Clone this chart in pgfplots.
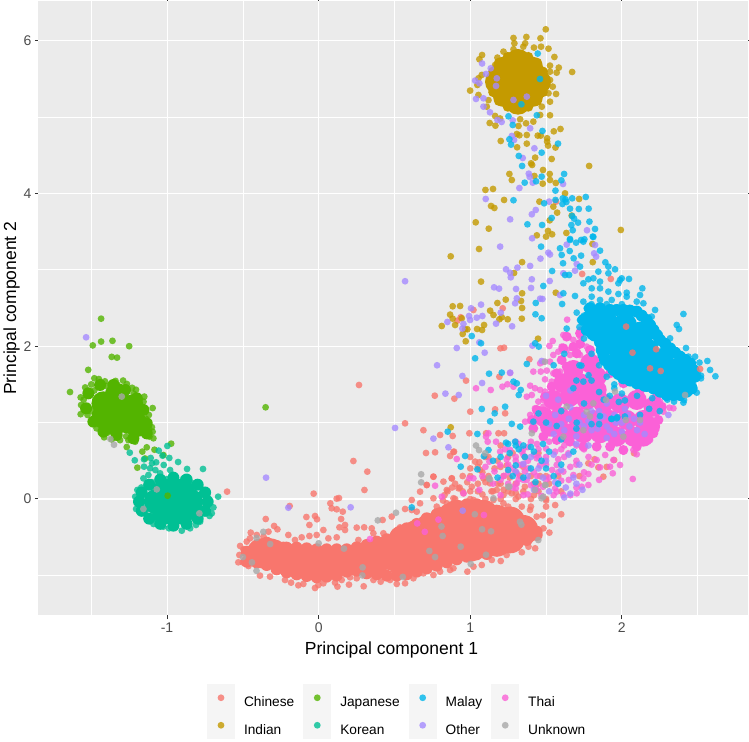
\documentclass[border=0pt]{standalone}
\usepackage{fontspec}
\setmainfont{Liberation Sans}
\usepackage{pgfplots}
\pgfplotsset{compat=1.18}
\definecolor{cChinese}{HTML}{F8766D}
\definecolor{cIndian}{HTML}{C49A00}
\definecolor{cJapanese}{HTML}{53B400}
\definecolor{cKorean}{HTML}{00C094}
\definecolor{cMalay}{HTML}{00B6EB}
\definecolor{cOther}{HTML}{A58AFF}
\definecolor{cThai}{HTML}{FB61D7}
\definecolor{cUnknown}{HTML}{A8A8A8}
\pgfplotsset{
  pts/.style={only marks, mark=*, mark size=3.4pt, forget plot,
    mark options={draw opacity=0, fill=#1, fill opacity=0.8}},
  blob/.style 2 args={only marks, mark=*, mark size=#2, forget plot,
    mark options={draw opacity=0, fill=#1}},
  key/.style={draw=none, fill=#1, fill opacity=0.8},
}
\begin{document}
\begin{tikzpicture}
\useasboundingbox (0,0) rectangle (749pt,741pt);
\begin{axis}[
  at={(38.5pt,125.5pt)}, anchor=south west,
  scale only axis, width=709.5pt, height=614.5pt,
  xmin=-1.848, xmax=2.832, ymin=-1.525, ymax=6.518,
  xtick={-1,0,1,2}, ytick={0,2,4,6},
  minor xtick={-1.5,-0.5,0.5,1.5,2.5}, minor ytick={-1,1,3,5},
  grid=both,
  major grid style={white, line width=1.05pt},
  minor grid style={white, line width=0.55pt},
  axis background/.style={fill=black!8},
  axis line style={draw=none},
  tick align=outside, major tick length=3.6pt, minor tick length=0pt,
  tick style={color=black!80, line width=1pt},
  tick label style={font=\fontsize{14}{16}\selectfont, text=black!70,
    /pgf/number format/assume math mode=true},
  xlabel={Principal component 1}, ylabel={Principal component 2},
  every axis x label/.style={at={(axis description cs:0.4975,-0.043)},anchor=north,inner sep=0pt,font=\fontsize{17.5}{20}\selectfont},
  every axis y label/.style={at={(axis description cs:-0.026,0.5)},rotate=90,anchor=south,inner sep=0pt,font=\fontsize{17.5}{20}\selectfont},
  legend columns=4,
  legend cell align=left,
  legend image code/.code={
    \fill[black!5] (0pt,-8.75pt) rectangle (28pt,18.75pt);
    \fill[#1] (14pt,5pt) circle (3.4pt);
  },
  legend style={at={(axis description cs:0.2375,-0.1115)}, anchor=north west,
    draw=none, fill=none, inner sep=0pt, outer sep=0pt,
    column sep=9pt, row sep=0pt,
    font=\fontsize{13.7}{16}\selectfont,
    nodes={inner sep=0pt}},
]
\addlegendimage{key=cChinese}\addlegendentry{Chinese}
\addlegendimage{key=cJapanese}\addlegendentry{Japanese}
\addlegendimage{key=cMalay}\addlegendentry{Malay}
\addlegendimage{key=cThai}\addlegendentry{Thai}
\addlegendimage{key=cIndian}\addlegendentry{Indian}
\addlegendimage{key=cKorean}\addlegendentry{Korean}
\addlegendimage{key=cOther}\addlegendentry{Other}
\addlegendimage{key=cUnknown}\addlegendentry{Unknown}

% Chinese
\addplot[blob={cChinese}{15pt}] coordinates {
(-.376,-.711)(-.321,-.711)(-.233,-.755)(-.145,-.798)(-.057,-.82)(.031,-.82)(.119,-.82)(.207,-.798)
(.295,-.798)(.383,-.777)(.471,-.733)(.559,-.536)(.559,-.842)(.647,-.471)(.647,-.755)(.735,-.384)
(.735,-.733)(.823,-.296)(.823,-.667)(.911,-.209)(.911,-.624)(.999,-.209)(.999,-.624)(1.087,-.209)
(1.087,-.58)(1.175,-.275)(1.175,-.558)(1.263,-.296)(1.263,-.515)(1.35,-.406)(.867,-.471)(.955,-.415)
(1.043,-.406)(1.13,-.406)};
\addplot[blob={cChinese}{6pt}] coordinates {
(-.474,-.69)(-.474,-.82)(-.409,-.615)(-.409,-.829)(-.343,-.572)(-.343,-.864)(-.277,-.615)(-.277,-.92)
(-.211,-.637)(-.211,-.96)(-.145,-.637)(-.145,-.986)(-.079,-.646)(-.079,-1.008)(-.013,-.659)(-.013,-1.025)
(.053,-.659)(.053,-1.017)(.119,-.659)(.119,-1.003)(.185,-.659)(.185,-.951)(.251,-.633)(.251,-.938)
(.317,-.602)(.317,-.973)(.383,-.558)(.383,-.986)(.449,-.528)(.449,-1.003)(.515,-.458)(.515,-1.003)
(.581,-.384)(.581,-.986)(.647,-.327)(.647,-.951)(.713,-.253)(.713,-.908)(.779,-.2)(.779,-.873)
(.845,-.144)(.845,-.829)(.911,-.1)(.911,-.79)(.977,-.07)(.977,-.755)(1.043,-.07)(1.043,-.724)
(1.109,-.113)(1.109,-.72)(1.175,-.153)(1.175,-.676)(1.241,-.196)(1.241,-.633)(1.307,-.275)(1.307,-.589)
(1.372,-.34)(1.372,-.537)(1.438,-.428)(1.438,-.471)};
\addplot[pts=cChinese] coordinates {
(-.518,-.615)(-.496,-.659)(-.448,-.44)(-.408,-.471)(-.364,-.493)(-.331,-.428)(-.294,-.353)(-.272,-.397)
(-.349,-.262)(-.2,-.471)(-.156,-.537)(-.112,-.502)(-.061,-.484)(-.013,-.471)(.031,-.406)(.064,-.515)
(.119,-.502)(.148,-.262)(.137,-.371)(.174,-.34)(.174,-.406)(.251,-.375)(.3,-.371)(.262,-.537)
(.35,-.384)(.361,-.449)(.422,-.275)(.427,-.449)(.482,-.231)(.537,-.371)(.57,-.131)(.614,-.013)
(.614,-.144)(.647,-.166)(.669,.096)(.669,-.057)(.713,.183)(.757,.292)(.768,.611)(.708,.602)
(.867,.563)(.889,.615)(.823,.227)(.845,.118)(.878,.27)(.922,.14)(.757,.009)(.779,-.1)
(.845,-.057)(.889,.009)(.955,.074)(1.01,.161)(1.032,.489)(1.065,.38)(1.087,.27)(1.13,.205)
(1.175,.118)(1.219,.052)(1.274,.074)(1.318,.031)(1.021,-.013)(1.153,-.013)(1.219,-.057)(1.34,-.1)
(1.394,-.144)(1.438,-.231)(1.478,-.214)(1.526,-.284)(1.522,-.44)(1.483,-.384)(1.428,-.646)(1.384,-.624)
(1.34,-.698)(1.296,-.646)(1.24,-.733)(1.201,-.812)(1.142,-.798)(1.076,-.864)(1.021,-.886)(.981,-.951)
(.889,-.907)(.867,-.929)(.801,-.951)(.757,-.995)(.691,-.973)(.625,-1.038)(.57,-1.104)(.515,-1.112)
(.471,-1.06)(.409,-1.082)(.361,-1.06)(.297,-1.143)(.2,-1.121)(.251,-1.038)(.207,-1.025)(.152,-1.06)
(.124,-1.147)(.108,-1.095)(.031,-1.104)(-.002,-1.126)(-.024,-1.165)(-.101,-1.112)(-.134,-1.13)(-.182,-1.095)
(-.222,-1.06)(-.321,-1.016)(-.387,-1.003)(-.463,-.877)(-.501,-.829)(-.53,-.829)(-.523,-.733)(-.475,-.558)
(-.453,-.515)(.229,.497)(.321,.358)(.302,.118)(-.033,.07)(-.604,.096)(-.191,-.092)(.077,-.057)
(.119,.004)(.134,.012)(.086,-.122)(.119,-.135)(.159,-.166)(-.081,-.236)(-.024,-.223)(-.011,-.266)
(-.061,-.34)(.266,1.492)(.57,.99)(.691,.90)(.801,.838)(.884,.825)(.893,.62)(.994,.86)
(1.104,.86)(1.186,.86)(1.223,.86)(1.0,1.143)(1.164,1.173)(1.23,1.121)(1.192,1.6)(1.199,1.972)
(1.223,1.98)(1.39,1.828)(.972,1.549)(.766,1.352)(.895,1.313)(1.021,2.474)(.937,2.378)(.915,2.334)
(1.214,2.496)(1.738,2.945)(1.927,2.88)(1.566,3.892)(1.949,.51)(1.878,.292)(1.845,.414)(1.779,.467)
(.757,.292)(.878,.27)(.713,.183)(1.0,.55)(1.06,.48)(1.12,.55)(1.18,.5)(1.0,.4)
(1.08,.35)(1.16,.4)(1.24,.44)(.95,.3)(1.1,.22)(1.18,.2)(1.26,.28)(.93,.15)
(1.0,.1)(1.08,.06)(1.14,.1)(1.22,.12)(1.3,.08)(1.36,.16)(1.42,.05)(1.5,-.02)
(1.56,-.08)(1.6,-.2)(.98,.22)(1.4,.3)(1.5,.3)(1.58,.3)(1.6,.1)(1.45,.2)
(.83,.05)(.88,.15)(.82,-.02)(1.3,.35)(1.36,.55)(1.28,.6)(1.2,.7)(1.45,.6)
(1.72,.3)(1.82,.52)(1.9,.42)(2.08,.6)
(.9,0)(1.0,0)(1.1,0)(1.2,0)(1.3,0)(1.4,0)(1.5,0)(.85,.1)(.95,.1)(1.05,.1)(1.15,.1)(1.25,.1)(1.35,.1)(1.45,.1)
(.9,.2)(1.05,.2)(1.2,.2)(1.3,.2)(1.42,.2)(1.52,.2)(1.0,.3)(1.12,.3)(1.22,.3)(1.33,.3)(1.46,.3)
(.95,-.1)(1.1,-.1)(1.25,-.1)(1.4,-.1)(1.5,-.1)(1.05,.42)(1.2,.42)(1.35,.42)(1.1,.55)(1.25,.55)};

% Japanese
\addplot[blob={cJapanese}{12pt}] coordinates {
(-1.332,1.165)(-1.42,1.252)(-1.332,1.361)(-1.233,1.208)(-1.255,1.012)(-1.343,.99)(-1.42,1.077)(-1.20,.968)};
\addplot[blob={cJapanese}{6pt}] coordinates {
(-1.519,1.383)(-1.442,1.492)(-1.354,1.492)(-1.277,1.427)(-1.2,1.318)(-1.156,1.165)(-1.134,.99)(-1.134,.859)
(-1.222,.794)(-1.332,.838)(-1.42,.881)(-1.486,1.012)(-1.534,1.187)};
\addplot[pts=cJapanese] coordinates {
(-1.64,1.40)(-1.52,1.69)(-1.435,2.36)(-1.435,2.06)(-1.36,2.07)(-1.25,2.0)(-1.49,2.01)(-1.365,1.86)
(-1.33,1.85)(-1.48,1.58)(-1.45,1.57)(-1.41,1.54)(-1.34,1.545)(-1.29,1.55)(-1.265,1.505)(-1.23,1.455)
(-1.205,1.43)(-1.54,1.46)(-1.57,1.33)(-1.567,1.23)(-1.57,1.11)(-1.525,1.10)(-1.50,1.01)(-1.465,.925)
(-1.415,.807)(-1.365,.78)(-1.31,.77)(-1.255,.77)(-1.21,.75)(-1.15,1.34)(-1.155,1.274)(-1.12,1.10)
(-1.095,1.19)(-1.134,1.01)(-1.12,.925)(-1.10,.94)(-1.116,.816)(-1.09,.794)(-1.095,.88)(-1.266,.68)
(-1.134,.676)(-1.163,.62)(-1.145,.53)(-1.083,.645)(-1.024,.575)(-.973,.724)(-1.196,.41)(-.35,1.2)
(-1.50,1.50)(-1.52,1.40)(-1.48,1.42)(-1.55,1.30)(-1.53,1.18)(-1.50,1.15)(-1.46,1.05)(-1.44,.98)
(-1.39,.87)(-1.34,.84)(-1.27,.82)(-1.22,.85)(-1.18,.95)(-1.14,1.05)(-1.15,1.18)(-1.18,1.30)
(-1.22,1.38)(-1.27,1.45)(-1.33,1.50)(-1.40,1.48)};

% Korean
\addplot[blob={cKorean}{13pt}] coordinates {
(-.958,-.035)(-1.068,-.035)(-.848,-.035)(-1.013,.096)(-.903,.096)(-1.013,-.166)(-.903,-.166)};
\addplot[blob={cKorean}{6pt}] coordinates {
(-.732,-.035)(-.749,-.155)(-.798,-.257)(-.871,-.325)(-.958,-.349)(-1.045,-.325)(-1.118,-.257)(-1.167,-.155)
(-1.185,-.035)(-1.167,.085)(-1.118,.187)(-1.045,.255)(-.958,.279)(-.871,.255)(-.798,.187)(-.749,.085)};
\addplot[pts=cKorean] coordinates {
(-1.246,.606)(-1.213,.506)(-1.152,.423)(-1.152,.519)(-1.055,.633)(-.998,.694)(-1.03,.567)(-.985,.537)
(-1.108,.537)(-1.072,.48)(-1.022,.445)(-.927,.484)(-.868,.393)(-.763,.393)(-1.099,.467)(-1.112,.401)
(-1.077,.379)(-.98,.379)(-1.156,.27)(-1.123,.314)(-1.046,.336)(-.958,.314)(-.892,.27)(-.837,.205)
(-.793,.192)(-.76,.118)(-.727,.009)(-.694,-.11)(-.663,.03)(-.705,-.188)(-.72,-.222)(-.782,-.297)
(-.809,-.34)(-.848,-.384)(-.903,-.415)(-.987,-.384)(-1.024,-.362)(-1.09,-.327)(-1.132,-.262)(-1.204,-.131)
(-1.21,.03)(-1.196,.118)(-1.17,.15)(-1.17,0)(-1.14,-.15)(-1.08,-.25)(-1.18,.05)(-.80,-.2)
(-.75,-.05)(-.78,.06)(-.82,.14)(-.90,.22)(-1,.26)(-1.1,.22)};
\addplot[pts=cJapanese] coordinates {(-.996,.043)};

% Indian
\addplot[blob={cIndian}{13pt}] coordinates {
(1.315,5.46)(1.447,5.46)(1.183,5.46)(1.315,5.72)(1.315,5.20)};
\addplot[blob={cIndian}{11pt}] coordinates {
(1.408,5.645)(1.222,5.645)(1.408,5.275)(1.222,5.275)};
\addplot[blob={cIndian}{5pt}] coordinates {
(1.493,5.46)(1.479,5.595)(1.441,5.71)(1.383,5.786)(1.315,5.813)(1.247,5.786)(1.189,5.71)(1.151,5.595)
(1.137,5.46)(1.151,5.325)(1.189,5.21)(1.247,5.134)(1.315,5.107)(1.383,5.134)(1.441,5.21)(1.479,5.325)};
\addplot[pts=cIndian] coordinates {
(1.498,6.147)(1.285,6.034)(1.37,6.047)(1.463,6.03)(1.291,5.964)(1.362,5.964)(1.35,5.92)(1.467,5.92)
(1.42,5.908)(1.516,5.894)(1.285,5.886)(1.078,5.811)(1.06,5.755)(1.219,5.855)(1.555,5.785)(1.179,5.777)
(1.526,5.672)(1.584,5.646)(1.672,5.589)(1.57,5.58)(1.526,5.593)(1.164,5.68)(1.076,5.55)(1.054,5.506)
(1.047,5.419)(.999,5.345)(1.054,5.288)(1.109,5.135)(1.12,5.22)(1.526,5.484)(1.544,5.397)(1.516,5.31)
(1.566,5.301)(1.526,5.2)(1.472,5.135)(1.461,5.026)(1.526,5.022)(1.164,5.013)(1.197,4.98)(1.128,4.921)
(1.166,4.886)(1.318,4.882)(1.368,4.917)(1.416,4.939)(1.329,4.97)(1.595,4.843)(1.551,4.812)(1.307,4.777)
(1.324,4.76)(1.373,4.764)(1.445,4.756)(1.465,4.756)(1.507,4.721)(1.507,4.677)(1.513,4.625)(1.562,4.6)
(1.201,4.686)(1.309,4.603)(1.373,4.651)(1.428,4.468)(1.537,4.45)(1.401,4.393)(1.408,4.372)(1.784,4.359)
(1.48,4.306)(1.258,4.254)(1.423,4.228)(1.524,4.254)(1.274,4.175)(1.526,4.175)(1.478,4.127)(1.564,4.136)
(1.10,4.045)(1.15,4.058)(1.625,4.0)(1.223,3.914)(1.456,3.892)(1.718,3.927)(1.137,3.835)(1.159,3.809)
(1.548,3.826)(1.573,3.748)(1.669,3.709)(1.524,3.647)(1.036,3.621)(1.122,3.538)(1.513,3.508)(1.439,3.451)
(1.54,3.464)(1.50,3.434)(1.634,3.482)(1.993,3.521)(1.058,3.272)(.871,3.176)(1.342,3.1)(1.289,2.958)
(1.071,2.845)(1.564,2.70)(1.808,3.1)(1.806,3.338)(1.342,2.692)(1.335,2.592)(1.234,2.609)(1.179,2.565)
(1.342,2.50)(.884,2.522)(.933,2.526)(.867,2.413)(.884,2.36)(.944,2.365)(1.131,2.465)(1.153,2.408)
(1.192,2.352)(1.208,2.378)(1.247,2.352)(1.34,2.36)(.812,2.264)(.90,2.277)(1.091,2.277)(1.045,2.225)
(1.078,2.212)(.966,2.221)(.981,2.221)(.95,2.16)(.97,2.064)(1.447,2.098)(.871,.938)};

% Thai
\addplot[blob={cThai}{10pt}] coordinates {
(1.68,1.688)(1.79,1.776)(1.834,1.601)(1.614,1.514)(1.724,1.514)(1.834,1.427)(1.548,1.296)(1.658,1.339)
(1.768,1.296)(1.878,1.252)(1.988,1.252)(2.098,1.296)(2.208,1.208)(1.482,1.078)(1.592,1.078)(1.702,1.078)
(1.812,1.034)(1.922,1.034)(2.032,1.034)(2.142,1.034)(2.186,.947)(1.636,.86)(1.746,.86)(1.856,.86)
(1.966,.816)(2.076,.816)(2.142,.816)(1.526,.947)};
\addplot[blob={cThai}{5pt}] coordinates {
(1.636,2.125)(1.724,2.168)(1.812,2.147)(1.867,2.038)(1.889,1.819)(1.922,1.645)(2.01,1.514)(2.12,1.427)
(2.23,1.339)(2.263,1.208)(2.241,1.034)(2.208,.86)(2.164,.772)(2.098,.685)(2.01,.641)(1.922,.685)
(1.834,.685)(1.746,.685)(1.658,.75)(1.57,.772)(1.482,.816)(1.416,.925)(1.406,1.034)(1.439,1.165)
(1.493,1.339)(1.537,1.47)(1.57,1.645)(1.603,1.819)(1.614,1.972)(1.702,1.906)(1.79,1.95)(1.636,1.732)
(1.724,2.03)(1.68,1.99)};
\addplot[pts=cThai] coordinates {
(1.639,2.347)(1.724,2.212)(1.746,2.221)(1.79,2.19)(1.834,2.168)(1.614,2.147)(1.647,2.116)(1.68,2.081)
(1.724,2.125)(1.544,2.068)(1.522,2.003)(1.603,1.994)(1.636,1.95)(1.581,1.928)(1.702,1.972)(1.768,1.994)
(1.548,1.885)(1.526,1.797)(1.603,1.819)(1.658,1.885)(1.724,1.885)(1.482,1.797)(1.461,1.776)(1.416,1.667)
(1.465,1.667)(1.505,1.68)(1.548,1.645)(1.592,1.667)(1.263,1.649)(1.493,1.566)(1.537,1.536)(1.581,1.579)
(1.245,1.501)(1.212,1.47)(1.135,1.427)(1.038,1.449)(1.285,1.47)(1.395,1.483)(1.427,1.449)(1.461,1.427)
(1.493,1.405)(1.373,1.339)(1.406,1.361)(1.482,1.296)(1.449,1.274)(1.427,1.187)(1.395,1.10)(1.362,1.012)
(1.427,1.034)(1.482,1.208)(2.208,.99)(2.219,.925)(2.186,.772)(2.098,.585)(2.076,.641)(2.01,.62)
(1.944,.51)(1.988,.445)(1.922,.423)(1.94,.336)(2.072,.262)(1.89,.576)(1.834,.51)(1.856,.414)
(1.779,.327)(1.746,.27)(1.779,.183)(1.735,.161)(1.68,.314)(1.614,.358)(1.647,.598)(1.57,.445)
(1.493,.489)(1.439,.532)(1.351,.576)(1.12,.86)(1.104,.816)(1.17,.75)(1.115,.75)(.911,.523)
(.994,.27)(1.021,.27)(.768,.174)(.812,.03)(.955,.074)(1.197,.445)(1.126,.489)(1.197,.62)
(1.263,.641)(1.384,.401)(1.329,.445)(1.307,.336)(1.702,.074)(1.614,.052)(1.57,.096)(1.439,.118)
(1.373,.249)(1.307,.205)(2.34,1.187)(2.314,1.195)(2.252,1.274)(2.274,1.143)(1.32,.72)(1.38,.68)
(1.44,.72)(1.5,.66)(1.56,.62)(1.34,.62)(1.42,.58)(1.5,.55)(1.58,.52)(1.3,.5)
(1.38,.5)(1.46,.44)(1.54,.38)(1.28,.4)(1.36,.36)(1.44,.3)(1.52,.28)(1.6,.24)
(1.32,.26)(1.4,.18)(1.48,.16)(1.56,.14)(1.66,.42)(1.7,.5)(1.62,.7)(1.7,.7)
(1.24,.52)(1.22,.3)(1.16,.36)(1.3,.14)(1.38,.06)(1.47,.04)(1.25,.2)(1.15,.2)
(1.08,.3)(1.06,.12)(1.2,.05)(1.1,.42)(.339,-.524)(.65,-.32)(.7,-.43)(.79,-.27)(1.09,-.21)
(1.3,.75)(1.4,.75)(1.52,.75)(1.23,.65)(1.35,.65)(1.45,.65)(1.6,.65)(1.75,.65)(1.3,.55)(1.45,.55)(1.62,.55)(1.78,.55)
(1.25,.45)(1.35,.45)(1.5,.45)(1.7,.45)(1.8,.45)(1.25,.35)(1.42,.35)(1.58,.35)(1.75,.35)(1.2,.25)(1.35,.25)(1.5,.25)
(1.65,.25)(1.85,.25)(1.28,.15)(1.43,.15)(1.7,.15)(1.35,.05)(1.55,.05)(1.66,.05)};

% Other
\addplot[pts=cOther] coordinates {
(1.078,5.70)(1.135,5.637)(1.104,5.563)(1.032,5.476)(1.06,5.441)(1.175,5.506)(1.17,5.406)(1.038,5.236)
(1.087,5.244)(1.087,5.135)(1.13,5.061)(1.179,4.961)(1.207,4.935)(1.28,4.956)(1.395,4.852)(1.274,4.751)
(1.289,4.699)(1.423,4.59)(1.346,4.463)(1.386,4.258)(1.392,4.215)(1.412,4.14)(1.612,4.123)(1.324,4.07)
(1.102,3.927)(1.52,3.892)(1.432,3.783)(1.406,3.726)(1.263,3.66)(1.77,3.517)(1.408,3.412)(1.285,5.223)
(1.373,5.266)(1.197,3.303)(1.515,3.224)(1.526,3.2)(1.463,3.146)(1.236,3.006)(1.263,2.962)(1.267,2.901)
(1.311,3.028)(1.395,3.05)(1.406,2.875)(1.524,2.853)(1.157,2.77)(1.19,2.753)(1.302,2.749)(1.401,2.762)
(1.592,2.67)(1.461,2.622)(1.476,2.618)(1.307,2.626)(1.296,2.561)(1.201,2.439)(1.071,2.544)(1.005,2.496)
(.992,2.395)(.999,2.343)(1.043,2.373)(1.08,2.395)(.849,2.317)(.955,2.291)(.948,2.23)(1.17,2.295)
(1.276,2.26)(.911,1.976)(1.06,2.05)(1.095,1.915)(1.41,2.007)(1.471,1.806)(.781,1.75)(.948,1.61)
(1.078,1.518)(.836,1.379)(.924,1.361)(1.263,1.654)(.757,.79)(.856,.676)(1.636,3.329)(1.702,3.076)
(1.691,2.988)(1.614,2.954)(1.823,3.325)(1.817,3.215)(1.83,3.172)(-1.534,2.116)(-.347,.279)(-.20,-.114)
(.211,-.109)(.95,-.153)(.57,2.85)(.504,.93)(2.307,1.10)
(1.66,1.2)(1.75,1.1)(1.85,1.15)(1.95,1.1)(2.0,1.0)(2.05,.95)(1.9,.95)(1.85,1.05)
(1.8,.9)(1.75,.95)(1.7,.82)(1.62,.9)(1.55,.85)(1.9,.8)(1.95,.85)(2.1,.9)
(1.4,.55)(1.5,.5)(1.45,.4)(1.35,.46)(1.55,.58)(1.6,.38)(1.38,.3)(1.48,.28)
(1.56,.22)(1.63,.15)(1.52,.1)(1.42,.12)(1.7,.2)(1.3,.36)(1.72,.45)(1.78,.7)
(1.65,.58)(1.68,.28)(1.74,.12)(1.62,.02)(1.66,.07)
(1.8,1.15)(1.88,1.08)(1.96,1.0)(2.04,1.1)(2.12,1.0)(2.0,.88)(1.84,.92)(1.92,.9)(2.08,1.05)(2.15,.85)(1.78,1.02)
(1.72,1.0)(1.65,1.05)(1.6,.98)(1.58,1.3)(1.66,1.42)(1.56,1.1)(1.7,.72)(2.02,1.18)(1.9,1.25)(1.5,1.35)(1.52,.98)};

% Malay
\addplot[blob={cMalay}{12pt}] coordinates {
(1.90,2.3)(2.021,2.277)(2.131,2.168)(1.944,2.037)(2.054,1.994)(2.164,1.95)(2.263,1.819)(2.362,1.688)
(1.988,1.819)(2.098,1.776)(2.208,1.71)(2.307,1.579)(2.406,1.558)(2.12,1.623)(2.23,1.536)(2.34,1.47)(1.812,2.343)
(1.834,2.212)(2.043,2.147)(1.933,2.168)(2.153,1.776)(2.263,1.623)(2.032,1.688)(2.164,1.558)};
\addplot[blob={cMalay}{6pt}] coordinates {
(1.79,2.496)(1.856,2.496)(1.922,2.474)(2.01,2.474)(2.098,2.452)(2.164,2.343)(2.208,2.212)(2.252,2.081)
(2.318,1.972)(2.384,1.863)(2.45,1.776)(2.483,1.601)(2.461,1.448)(2.384,1.361)(2.296,1.361)(2.208,1.448)
(2.098,1.514)(2.01,1.579)(1.944,1.689)(1.889,1.819)(1.867,1.95)(1.845,2.147)(1.768,2.212)(1.746,2.343)
(1.966,2.474)(2.054,2.465)(2.131,2.4)(2.186,2.277)(2.23,2.147)(2.285,2.03)(2.351,1.915)(2.417,1.82)
(2.472,1.688)(2.428,1.405)(2.34,1.361)(2.252,1.405)(2.153,1.483)(2.054,1.55)(1.977,1.636)(1.916,1.754)
(1.878,1.885)(1.856,2.05)};
\addplot[pts=cMalay] coordinates {
(1.28,4.895)(1.476,4.817)(1.258,4.708)(1.269,4.638)(1.579,4.651)(1.471,4.533)(1.32,4.49)(1.342,4.359)
(1.619,4.254)(1.471,4.219)(1.601,4.171)(1.434,4.158)(1.359,4.14)(1.562,4.036)(1.285,3.91)(1.487,3.87)
(1.562,3.914)(1.61,3.935)(1.628,3.922)(1.672,3.935)(1.762,3.953)(1.608,3.861)(1.634,3.887)(1.658,3.80)
(1.716,3.796)(1.781,3.80)(1.672,3.704)(1.685,3.669)(1.537,3.678)(1.711,3.617)(1.786,3.63)(1.377,3.595)
(1.474,3.586)(1.667,3.586)(1.823,3.534)(1.676,3.517)(1.808,3.434)(1.658,3.403)(1.731,3.39)(1.753,3.399)
(1.46,5.497)(1.337,5.166)(1.445,5.83)(1.252,5.009)(1.439,5.022)(1.467,3.303)(1.592,3.281)(1.603,3.194)
(1.656,3.246)(1.731,3.185)(1.682,3.15)(1.612,3.085)(1.724,3.041)(1.856,3.25)(1.812,3.43)(1.746,3.368)
(1.698,3.355)(1.658,3.39)(1.54,2.984)(1.625,2.932)(1.652,2.932)(1.891,3.098)(1.911,3.041)(1.955,3.006)
(1.482,2.788)(1.614,2.692)(1.432,2.565)(1.606,2.552)(1.43,2.417)(1.471,2.365)(1.636,2.23)(1.702,2.439)
(1.729,2.343)(1.691,2.657)(1.01,2.133)(1.071,2.038)(1.428,2.038)(1.452,1.994)(1.032,1.841)(1.373,1.767)
(1.124,1.64)(1.208,1.654)(1.285,1.536)(1.307,1.514)(1.333,1.427)(1.32,1.361)(1.23,1.208)(1.076,1.178)
(1.161,1.121)(1.131,1.016)(1.274,.983)(.851,.881)(1.047,.851)(1.329,.947)(1.236,.737)(1.296,.75)
(1.12,.641)(.966,.563)(.937,.423)(1.047,.388)
(1.779,2.875)(1.812,2.888)(1.845,2.976)(1.911,2.954)(1.856,2.845)(1.746,2.823)(1.988,2.866)(1.999,2.888)
(2.047,2.88)(1.977,2.823)(1.801,2.757)(1.856,2.757)(1.911,2.714)(1.977,2.683)(2.032,2.70)(2.12,2.67)
(2.135,2.757)(1.746,2.583)(1.801,2.648)(1.856,2.605)(1.933,2.605)(2.032,2.648)(2.098,2.583)(2.142,2.561)
(2.219,2.474)(2.197,2.387)(2.406,2.421)(2.362,2.277)(2.377,2.225)(1.724,2.343)(1.768,2.496)(2.318,2.103)
(2.423,1.976)(2.483,1.863)(2.439,1.863)(2.512,1.785)(2.564,1.806)(2.582,1.689)(2.617,1.606)(2.522,1.614)
(2.522,1.579)(2.494,1.392)(2.41,1.296)(2.406,1.261)(2.344,1.274)(2.362,1.361)
(1.8,2.55)(1.85,2.5)(1.9,2.55)(1.95,2.5)(2.0,2.55)(2.05,2.5)(2.1,2.45)(2.15,2.35)
(2.2,2.2)(2.25,2.15)(2.3,2.05)(2.35,1.95)(2.4,1.85)(2.45,1.75)(2.5,1.65)(2.47,1.5)
(2.42,1.42)(2.3,1.3)(2.2,1.32)(2.1,1.35)(2.0,1.38)(1.95,1.5)(1.9,1.6)(1.85,1.75)
(1.8,1.9)(1.75,2.1)(1.72,2.25)(1.78,2.3)(1.75,2.4)
(1.733,1.745)(1.746,1.536)
(1.32,.65)(1.36,.55)(1.3,.44)(1.26,.6)(1.42,.62)(1.47,.5)(1.4,.4)(1.35,.28)
(1.5,.4)(1.55,.3)(1.6,.45)(1.2,.55)(1.25,.38)(1.43,.22)(1.28,.3)(1.15,.5)
(1.18,.28)(1.09,.56)(1.58,.2)(1.52,.62)(1.48,.72)(1.68,.62)(1.6,.78)(1.7,.92)
(1.8,.98)(1.85,.98)(1.93,1.05)(2.12,1.1)(2.18,1.18)(2.25,1.15)(1.97,1.07)(2.02,1.08)
(1.75,1.25)(1.85,1.4)(1.95,1.45)(1.68,1.45)(1.8,1.55)(1.72,1.75)(1.62,1.9)(.614,-.11)
(1.933,1.047)(1.966,1.056)(1.856,1.086)(1.702,.999)(1.57,.955)(1.416,1.012)(1.25,.72)(1.3,.7)(1.35,.7)(1.4,.68)
(1.7,1.55)(1.55,1.75)(1.78,1.62)(1.88,1.3)(1.92,1.35)(1.98,1.27)(2.02,1.29)(1.5,1.0)(1.6,1.15)(1.45,1.12)};

% Unknown
\addplot[pts=cUnknown] coordinates {
(-1.299,1.34)(-1.374,.785)(-1.35,.71)(-1.068,.126)(-1.156,-.131)(-.787,-.188)(1.79,1.08)(1.812,1.252)
(1.896,1.296)(1.955,1.405)(2.12,1.034)(2.026,1.034)(2.01,.816)(1.768,1.143)(1.614,.816)(1.746,.90)
(1.493,1.797)(2.417,1.361)(1.038,.70)(1.058,.64)(1.098,.598)(1.406,.86)(1.124,.27)(1.428,.118)
(1.493,.183)(1.482,.03)(.676,.323)(.676,.218)(1.25,.16)(1.636,1.21)(.39,-.28)(.51,-.18)
(-.365,-.43)(-.32,-.59)(-.41,-.51)(-.50,-.76)(-.44,-.83)(-.41,-.94)(0,-.58)(.167,-.65)
(.29,-.895)(.288,-1.0)(.555,-1.02)(.73,-.68)(.768,-.76)(.81,-.36)(.818,-.484)(.937,-.624)
(1.003,-.85)(1.078,-.397)(1.137,-.423)(1.104,-.73)(1.328,-.297)(1.337,-.336)(1.449,-.537)(1.497,.183)
(1.47,.009)(1.258,.161)(1.13,.257)(1.153,.009)(1.03,-.2)};

% Chinese points lying on top of the Malay cluster
\addplot[pts=cChinese] coordinates {(2.028,2.256)(2.226,1.96)(2.07,1.915)(2.186,1.71)(2.256,1.675)(2.516,1.702)};
\end{axis}
\end{tikzpicture}
\end{document}
